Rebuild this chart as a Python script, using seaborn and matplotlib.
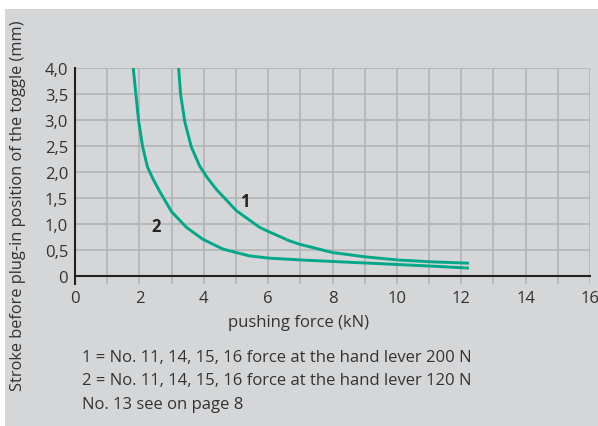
import matplotlib
matplotlib.use("Agg")
import matplotlib.pyplot as plt
import seaborn as sns
import pandas as pd
from matplotlib.patches import Rectangle

# data
force_200 = [3.22, 3.28, 3.41, 3.61, 3.87, 4.10, 4.39, 5.01, 5.73, 6.04, 6.66, 6.97,
             8.0, 9.04, 10.07, 11.1, 12.24]
stroke_200 = [4.0, 3.5, 2.97, 2.49, 2.12, 1.90, 1.67, 1.26, 0.94, 0.85, 0.68, 0.615,
              0.455, 0.37, 0.31, 0.275, 0.25]
force_120 = [1.81, 1.89, 1.98, 2.10, 2.25, 2.43, 2.63, 3.0, 3.46, 3.97, 4.6, 5.42,
             6.04, 6.66, 7.07, 8.1, 9.14, 10.17, 11.2, 12.24]
stroke_120 = [4.0, 3.5, 2.97, 2.49, 2.10, 1.86, 1.63, 1.24, 0.94, 0.71, 0.52, 0.39,
              0.346, 0.325, 0.31, 0.28, 0.25, 0.22, 0.19, 0.155]
curve_labels = ["1", "2"]
x_ticks = [0, 2, 4, 6, 8, 10, 12, 14, 16]
y_ticks = [0, 0.5, 1.0, 1.5, 2.0, 2.5, 3.0, 3.5, 4.0]
y_tick_labels = ["0", "0,5", "1,0", "1,5", "2,0", "2,5", "3,0", "3,5", "4,0"]
notes = ["1 = No. 11, 14, 15, 16 force at the hand lever 200 N",
         "2 = No. 11, 14, 15, 16 force at the hand lever 120 N",
         "No. 13 see on page 8"]

df = pd.concat([
    pd.DataFrame({"force": force_200, "stroke": stroke_200, "curve": "1"}),
    pd.DataFrame({"force": force_120, "stroke": stroke_120, "curve": "2"}),
])

sns.set_theme(style="white")
plt.rcParams["font.family"] = ["Open Sans", "DejaVu Sans"]

W, H = 598, 427
fig = plt.figure(figsize=(W / 100, H / 100), dpi=100)
fig.patch.set_facecolor("white")
panel = "#d5d6d8"
fig.patches.append(Rectangle((5 / W, 0), 1 - 5 / W, (H - 10) / H,
                             transform=fig.transFigure, facecolor=panel,
                             edgecolor="none", zorder=-10))

left, right, top, bottom = 75, 590, 69, 285
ax = fig.add_axes([left / W, 1 - bottom / H, (right - left) / W, (bottom - top) / H])
ax.set_zorder(1)
ax.set_facecolor(panel)

teal = "#00a887"
sns.lineplot(data=df, x="force", y="stroke", units="curve", estimator=None,
             sort=False, color=teal, linewidth=2.1, ax=ax, legend=False)
for ln in ax.lines:
    ln.set_solid_joinstyle("round")
    ln.set_solid_capstyle("butt")

ax.set_xlim(0, 16)
ax.set_ylim(-0.15, 4.0)
ax.set_xticks(x_ticks)
ax.set_xticks(range(0, 17), minor=True)
ax.set_yticks(y_ticks)
ax.set_yticklabels(y_tick_labels)
ax.grid(True, which="both", color="#b3b4b6", linewidth=1.2)
ax.set_axisbelow(True)

for s in ["top", "right"]:
    ax.spines[s].set_visible(False)
ax.spines["bottom"].set_position(("data", 0))
ax.spines["bottom"].set_color("#222222")
ax.spines["bottom"].set_linewidth(1.5)
ax.spines["left"].set_color("#222222")
ax.spines["left"].set_linewidth(1.5)

txt = "#333333"
fs = 12
ax.tick_params(axis="both", which="both", length=0, labelsize=fs, labelcolor=txt)
ax.tick_params(axis="x", pad=10)
ax.tick_params(axis="y", pad=5)

ax.set_xlabel("pushing force (kN)", fontsize=fs, color=txt)
ax.xaxis.set_label_coords((298 - left) / (right - left), (bottom - 323) / (bottom - top))
ax.xaxis.label.set_va("center")
ax.set_ylabel("Stroke before plug-in position of the toggle (mm)", fontsize=11.8, color=txt)
ax.yaxis.set_label_coords((18 - left) / (right - left), (bottom - 205.5) / (bottom - top))
ax.yaxis.label.set_va("center")

ax.text(5.27, 1.45, curve_labels[0], fontsize=fs, fontweight="bold", color="#222222",
        ha="center", va="center")
ax.text(2.53, 0.96, curve_labels[1], fontsize=fs, fontweight="bold", color="#222222",
        ha="center", va="center")

for i, line in enumerate(notes):
    fig.text(82 / W, 1 - (358 + 23.5 * i) / H, line, fontsize=fs, color=txt,
             ha="left", va="center")

fig.savefig("out.png", dpi=100, facecolor="white")
